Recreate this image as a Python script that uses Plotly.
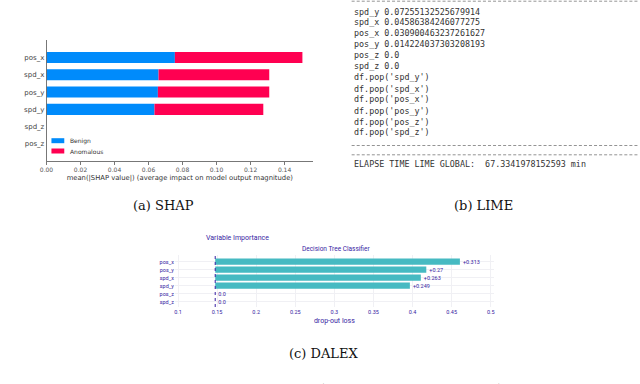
import plotly.graph_objects as go

W, H = 640, 384

# ---------------- data ----------------
shap_features = ["pos_x", "spd_x", "pos_y", "spd_y", "spd_z", "pos_z"]
shap_benign = [0.0755, 0.0659, 0.0655, 0.0635, 0.0, 0.0]
shap_anomalous = [0.0750, 0.0651, 0.0655, 0.0640, 0.0, 0.0]
shap_ticks = [0.00, 0.02, 0.04, 0.06, 0.08, 0.10, 0.12, 0.14]

lime_lines = [
    "spd_y 0.07255132525679914",
    "spd_x 0.04586384246077275",
    "pos_x 0.030900463237261627",
    "pos_y 0.014224037303208193",
    "pos_z 0.0",
    "spd_z 0.0",
    "df.pop('spd_y')",
    "df.pop('spd_x')",
    "df.pop('pos_x')",
    "df.pop('pos_y')",
    "df.pop('pos_z')",
    "df.pop('spd_z')",
]
lime_elapse = "ELAPSE TIME LIME GLOBAL:  67.3341978152593 min"

dalex_features = ["pos_x", "pos_y", "spd_x", "spd_y", "pos_z", "spd_z"]
dalex_dropout = [0.313, 0.27, 0.263, 0.249, 0.0, 0.0]
dalex_labels = ["+0.313", "+0.27", "+0.263", "+0.249", "0.0", "0.0"]
dalex_baseline = 0.1476
dalex_ticks = [0.1, 0.15, 0.2, 0.25, 0.3, 0.35, 0.4, 0.45, 0.5]


def px(x):
    return x / W


def py(y):
    return 1 - y / H


fig = go.Figure()

# ---------------- SHAP ----------------
fig.add_trace(go.Bar(
    y=shap_features, x=shap_benign, orientation="h", name="Benign",
    marker=dict(color="#008bfb", line=dict(width=0)), width=0.64,
    xaxis="x", yaxis="y", showlegend=False,
))
fig.add_trace(go.Bar(
    y=shap_features, x=shap_anomalous, base=shap_benign, orientation="h",
    name="Anomalous", marker=dict(color="#ff0051", line=dict(width=0)),
    width=0.64, xaxis="x", yaxis="y", showlegend=False,
))

# ---------------- DALEX ----------------
fig.add_trace(go.Bar(
    y=dalex_features, x=dalex_dropout, base=dalex_baseline, orientation="h",
    marker=dict(color="#46bac2", line=dict(width=0)), width=0.78,
    text=dalex_labels, textposition="outside", cliponaxis=False,
    textfont=dict(size=5.5, color="#371ea3", family="Roboto"),
    xaxis="x2", yaxis="y2", showlegend=False,
))

shap_order = list(reversed(shap_features))
dalex_order = list(reversed(dalex_features))

fig.update_layout(
    width=W, height=H,
    margin=dict(l=0, r=0, t=0, b=0),
    paper_bgcolor="white", plot_bgcolor="white",
    barmode="overlay",
    showlegend=False,
    xaxis=dict(
        domain=[px(40), px(310)], range=[0, 0.1568], anchor="y",
        tickvals=shap_ticks, ticktext=[f"{v:.2f}" for v in shap_ticks],
        ticks="outside", ticklen=3, tickcolor="#555", tickwidth=0.8,
        showline=True, linecolor="#555", linewidth=0.8,
        showgrid=False, zeroline=False,
        tickfont=dict(size=6, family="DejaVu Sans", color="#555"),
        title=dict(text="mean(|SHAP value|) (average impact on model output magnitude)",
                   font=dict(size=6.8, family="DejaVu Sans", color="#333"),
                   standoff=3),
    ),
    yaxis=dict(
        domain=[py(160.7), py(40)], anchor="x",
        type="category", categoryorder="array", categoryarray=shap_order,
        range=[-0.97, 6.01],
        showline=True, linecolor="#555", linewidth=0.8,
        ticks="", showgrid=False, zeroline=False,
        tickfont=dict(size=7, family="DejaVu Sans", color="#444"),
    ),
    xaxis2=dict(
        domain=[px(170), px(493)], range=[0.096, 0.504], anchor="y2",
        tickvals=dalex_ticks, ticktext=[f"{v:g}" for v in dalex_ticks],
        showgrid=True, gridcolor="#f0f0f4", gridwidth=1,
        zeroline=False, showline=False, ticks="",
        tickfont=dict(size=5.5, family="Roboto", color="#371ea3"),
        title=dict(text="drop-out loss",
                   font=dict(size=7, family="Roboto", color="#371ea3"),
                   standoff=4),
    ),
    yaxis2=dict(
        domain=[py(307), py(255)], anchor="x2",
        type="category", categoryorder="array", categoryarray=dalex_order,
        range=[-0.66, 5.84],
        showgrid=True, gridcolor="#f0f0f4", gridwidth=1,
        zeroline=False, showline=False, ticks="",
        tickfont=dict(size=5.5, family="Roboto", color="#371ea3"),
    ),
)

shapes = []
annotations = []

# SHAP legend (swatches and labels)
for name, color, yc in [("Benign", "#008bfb", 140.7), ("Anomalous", "#ff0051", 151)]:
    shapes.append(dict(type="rect", xref="paper", yref="paper",
                       x0=px(45), x1=px(58), y0=py(yc + 2.5), y1=py(yc - 2.5),
                       fillcolor=color, line=dict(width=0)))
    annotations.append(dict(text=name, xref="paper", yref="paper",
                            x=px(62), y=py(yc), xanchor="left", yanchor="middle",
                            showarrow=False,
                            font=dict(size=6, family="DejaVu Sans", color="#333")))

# DALEX baseline dotted line
shapes.append(dict(type="line", xref="x2", yref="y2 domain",
                   x0=dalex_baseline, x1=dalex_baseline, y0=0, y1=1,
                   line=dict(color="#371ea3", width=1, dash="dot")))

# DALEX titles
annotations.append(dict(text="Variable Importance", xref="paper", yref="paper",
                        x=px(199), y=py(237.7), xanchor="left", yanchor="middle",
                        showarrow=False,
                        font=dict(size=7, family="Roboto", color="#371ea3")))
annotations.append(dict(text="Decision Tree Classifier", xref="paper", yref="paper",
                        x=px(333), y=py(249.3), xanchor="center", yanchor="middle",
                        showarrow=False,
                        font=dict(size=6.5, family="Roboto", color="#371ea3")))

# LIME console output
mono = dict(size=8.4, family="DejaVu Sans Mono", color="#333")
line_ys = [12.3, 22.3, 33.3, 44.3, 55, 66, 77.5, 88.5, 99.5, 110.5, 121.5, 132.5]
# console separator rules (dashed)
for yv in [1.2, 145.5, 154.8]:
    shapes.append(dict(type="line", xref="paper", yref="paper",
                       x0=px(349), x1=1, y0=py(yv), y1=py(yv),
                       line=dict(color="#888", width=0.9, dash="3px,2.05px")))
for txt, yv in zip(lime_lines, line_ys):
    annotations.append(dict(text=txt, xref="paper", yref="paper",
                            x=px(349), y=py(yv), xanchor="left", yanchor="middle",
                            showarrow=False, font=mono))
annotations.append(dict(text=lime_elapse, xref="paper", yref="paper",
                        x=px(349), y=py(164), xanchor="left", yanchor="middle",
                        showarrow=False, font=mono))

# Captions
serif = dict(size=13, family="DejaVu Serif", color="#111")
for txt, xc, yc in [("(a) SHAP", 158, 205), ("(b) LIME", 483, 205), ("(c) DALEX", 320, 353)]:
    annotations.append(dict(text=txt, xref="paper", yref="paper",
                            x=px(xc), y=py(yc), xanchor="center", yanchor="middle",
                            showarrow=False, font=serif))

annotations.append(dict(
    text="Figure 4: Example of the best XAI methods (SHAP, LIME and DALEX) for the model.",
    xref="paper", yref="paper", x=0, y=py(380), xanchor="left", yanchor="top",
    showarrow=False, font=dict(size=14, family="DejaVu Serif", color="#111")))

fig.update_layout(shapes=shapes, annotations=annotations)

fig.write_html("out.html", config={"displayModeBar": False, "staticPlot": True},
               post_script="document.body.style.margin='0';")
